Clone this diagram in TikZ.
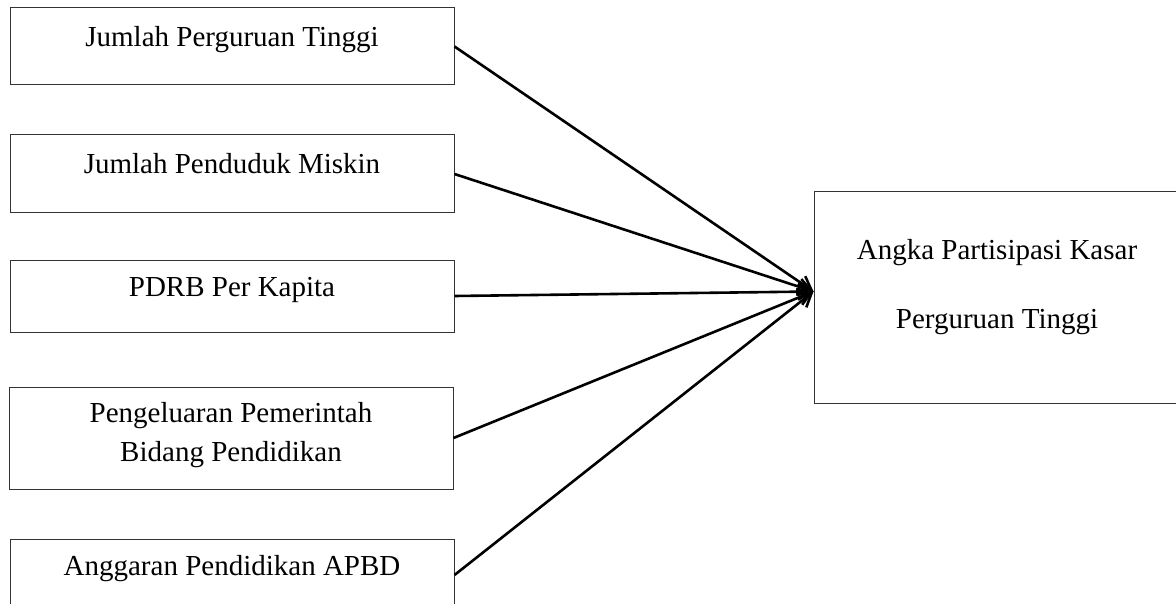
\documentclass[tikz,border=0pt]{standalone}
\usepackage{fontspec}
\setmainfont{Liberation Serif}
\usepackage{tikz}
\usetikzlibrary{positioning,calc,arrows.meta}
\tikzset{varbox/.style={draw=black!80, line width=0.5pt, rectangle, minimum width=222pt, inner sep=0pt, align=center, text height=5pt, text depth=5pt, font=\fontsize{14.5}{19.5}\selectfont}}
\tikzset{arr/.style={draw, -{Straight Barb[length=6.5pt,width=8pt,line width=1.3pt]}, line width=1.3pt}}

\begin{document}
\begin{tikzpicture}[x=0.5pt, y=-0.5pt]
		\useasboundingbox (0,0) rectangle (1176,604);
		\clip (0,0) rectangle (1176,604);
		% variabel bebas
		\node[varbox, minimum height=38.5pt] (jpt) at (232,46.5) {Jumlah Perguruan Tinggi};
		\node[varbox, minimum height=39pt] (jpm) at (232,174) {Jumlah Penduduk Miskin};
		\node[varbox, minimum height=36pt] (pdrb) at (232,296) {PDRB Per Kapita};
		\node[varbox, minimum height=51pt, text height=24.5pt, text depth=1pt] (ppp) at (231,438)
			{Pengeluaran Pemerintah\\Bidang Pendidikan};
		\node[varbox, minimum height=36pt] (apbd) at (232,575) {Anggaran Pendidikan APBD};
		% variabel terikat
		\node[varbox, minimum width=183pt, minimum height=105.5pt, text height=39.5pt, text depth=9pt] (apk) at (997,297.5)
			{Angka Partisipasi Kasar\\[15pt]Perguruan Tinggi};
		\coordinate (tip) at ($(apk.west)+(0,-6)$);
		\draw[arr] (jpt.east) -- (tip);
		\draw[arr] (jpm.east) -- (tip);
		\draw[arr] (pdrb.east) -- (tip);
		\draw[arr] (ppp.east) -- (tip);
		\draw[arr] (apbd.east) -- (tip);
	\end{tikzpicture}
\end{document}
